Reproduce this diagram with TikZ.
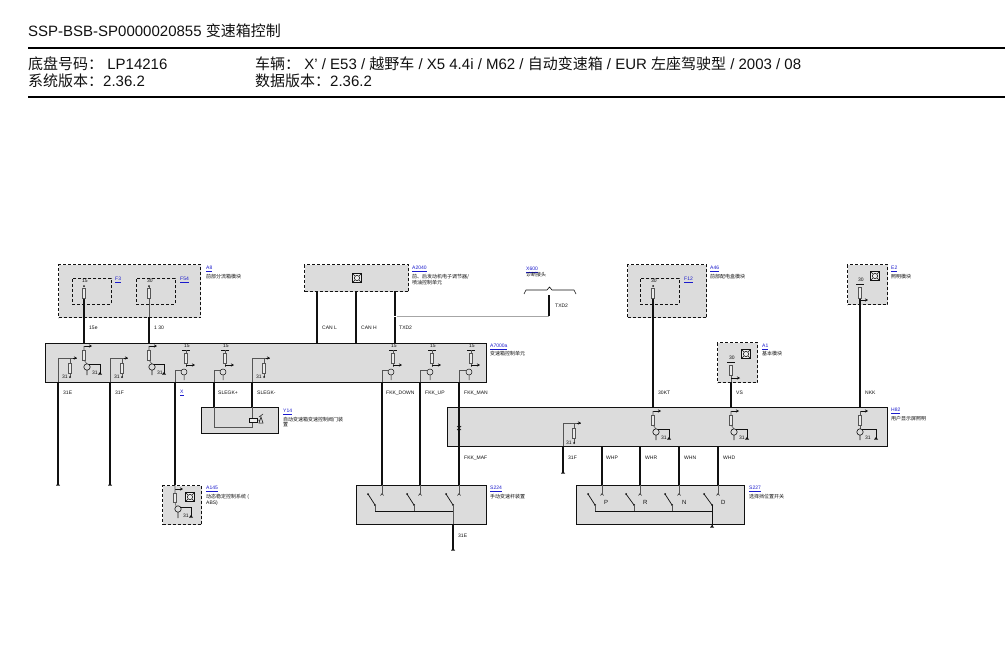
\documentclass[tikz,border=0pt]{standalone}
\usepackage{fontspec}
\setmainfont{Liberation Sans}
\newfontfamily\cjk{Noto Sans CJK SC}
\newcommand{\zh}[1]{{\cjk #1}}
\usetikzlibrary{arrows.meta}
\definecolor{boxfill}{HTML}{DCDCDC}
\definecolor{linkblue}{HTML}{1A1ACC}
\definecolor{ink}{HTML}{111111}
\definecolor{inner}{HTML}{555555}
\newcounter{lbn}
\tikzset{
 module/.style={draw=ink,fill=boxfill,line width=1pt,inner sep=0pt,minimum width=0pt},
 optmodule/.style={module,densely dashed,line width=1pt},
 innerdash/.style={draw=ink,densely dashed,line width=.9pt},
 small/.style={font=\fontsize{5}{5.5}\selectfont,text=ink,inner sep=0pt,anchor=west,align=left},
 refname/.style={small,text=linkblue},
 hdr/.style={font=\fontsize{15}{15}\selectfont,text=ink,inner sep=0pt,anchor=west},
 thin wire/.style={draw=inner,line width=.6pt},
 tick arrow/.style={draw=ink,line width=.8pt,-{Stealth[length=3pt,width=3pt]}},
}
% rectangular box from corner to corner
\newcommand{\boxat}[6]{\node[#2,minimum width=#5pt-#3pt,minimum height=#6pt-#4pt,anchor=north west] (#1) at (#3,#4) {};}
\newcommand{\wire}[5]{\coordinate (#1a) at (#2,#3);\coordinate (#1b) at (#2,#4);\draw[ink,line width=#5pt] (#1a) -- (#1b);}
\newcommand{\lab}[3]{\stepcounter{lbn}\node[small] (lb\arabic{lbn}) at (#1,#2) {#3};}
\newcommand{\rname}[3]{\stepcounter{lbn}\node[refname] (lb\arabic{lbn}) at (#1,#2) {\underline{#3}};}
\newcommand{\fuse}[3]{\draw[inner,line width=.6pt,fill=boxfill!60!white] (#1-1.5,#2) rectangle (#1+1.5,#3);}
\newcommand{\gnd}[2]{\fill[ink] (#1-2,#2+1.5) -- (#1,#2-1) -- (#1+2,#2+1.5) -- cycle;}
\newcommand{\pindot}[2]{\fill[ink] (#1,#2) circle (1pt);}
\newcommand{\arr}[3]{\draw[tick arrow] (#1,#2) -- (#3,#2);}
\newcommand{\icon}[2]{\draw[ink,line width=.7pt,fill=boxfill!50!white] (#1-4.5,#2-4.5) rectangle (#1+4.5,#2+4.5);
 \draw[ink,line width=.5pt] (#1,#2) circle (2.6pt) (#1-4,#2-4) -- (#1-1.5,#2-1.5) (#1+4,#2-4) -- (#1+1.5,#2-1.5) (#1-4,#2+4) -- (#1-1.5,#2+1.5) (#1+4,#2+4) -- (#1+1.5,#2+1.5);}
% output stage: x wire, top y; x circle; gx ground x
\newcommand{\outstage}[4]{\arr{#1}{#2}{#1+8}\fuse{#1}{#2+4}{#2+14}
 \draw[thin wire] (#1,#2) -- (#1,#2+4) (#1,#2+14) -- (#3,#2+18);
 \draw[ink,line width=.6pt] (#3,#2+21) circle (3.2pt) (#3,#2+24.2) -- (#3,#2+29);
 \draw[ink,line width=.7pt] (#3+2,#2+18) -- (#4,#2+18) -- (#4,#2+27);
 \gnd{#4}{#2+27}\lab{#3+5}{#2+27}{31}}
% side stage: x wire at bottom, top-left corner
\newcommand{\sidestage}[5]{\draw[thin wire] (#1,#3) -- (#1,#2) -- (#4,#2);\draw[tick arrow,line width=.7pt] (#4-4,#2) -- (#4,#2);
 \draw[thin wire] (#5,#2) -- (#5,#2+5);\fuse{#5}{#2+5}{#2+15}\draw[thin wire] (#5,#2+15) -- (#5,#2+19);\pindot{#5}{#2+19}\lab{#1+4}{#2+19}{31}}
% power stage: label 15 top, bar, fuse, arrow, transistor, input wire
\newcommand{\powstage}[3]{\lab{#1-2}{346}{15}\draw[ink,line width=.7pt] (#1-4,350) -- (#1+4,350);
 \fuse{#1}{353}{363}\draw[thin wire] (#1,350) -- (#1,353) (#1,363) -- (#1,367);\arr{#1}{365}{#1+9}
 \draw[ink,line width=.5pt] (#1-2,372) circle (3pt) (#1-2,375) -- (#1-2,380);
 \draw[thin wire] (#2,382) -- (#2,370) -- (#1-5,370);}
\newcommand{\sw}[3]{\draw[ink,line width=.7pt] (#1,494) -- (#2,505);\pindot{#1}{494}\pindot{#2}{505}\draw[thin wire] (#2,505) -- (#2,511);
 \draw[ink,line width=.5pt] (#3-1.5,495.5) -- (#3,493.5) -- (#3+1.5,495.5);\draw[thin wire] (#3,485) -- (#3,494);}
\begin{document}
\begin{tikzpicture}[x=1pt,y=-1pt]
\useasboundingbox (0,0) rectangle (1005,661);
\fill[white] (0,0) rectangle (1005,661);
% header
\node[hdr] (title) at (28,31) {SSP-BSB-SP0000020855 \zh{变速箱控制}};
\coordinate (ruleAl) at (28,48);\coordinate (ruleAr) at (1005,48);
\coordinate (ruleBl) at (28,97);\coordinate (ruleBr) at (1005,97);
\draw[black,line width=2pt] (ruleAl) -- (ruleAr);
\draw[black,line width=1.5pt] (ruleBl) -- (ruleBr);
\node[hdr] (chassis) at (28,64) {\zh{底盘号码：} LP14216};
\node[hdr] (sysver) at (28,81) {\zh{系统版本：}2.36.2};
\node[hdr] (vehicle) at (255,64) {\zh{车辆：} X' / E53 / \zh{越野车} / X5 4.4i / M62 / \zh{自动变速箱} / EUR \zh{左座驾驶型} / 2003 / 08};
\node[hdr] (dataver) at (255,81) {\zh{数据版本：}2.36.2};
% modules
\boxat{aEight}{optmodule}{58}{264}{200}{317}
\boxat{fThree}{innerdash}{72}{278}{111}{304}
\boxat{fFiftyFour}{innerdash}{136}{278}{175}{304}
\boxat{aTwenty}{optmodule}{304}{264}{408}{291}
\boxat{tcu}{module}{45}{343}{486}{382}
\boxat{aFortySix}{optmodule}{627}{264}{706}{317}
\boxat{fTwelve}{innerdash}{640}{278}{679}{304}
\boxat{aOne}{optmodule}{717}{342}{757}{382}
\boxat{eTwo}{optmodule}{847}{264}{887}{304}
\boxat{cluster}{module}{447}{407}{887}{446}
\boxat{yFourteen}{module}{201}{407}{278}{433}
\boxat{absmod}{optmodule}{162}{485}{201}{524}
\boxat{sTwoTwoFour}{module}{356}{485}{486}{524}
\boxat{sTwoTwoSeven}{module}{576}{485}{744}{524}
% wires top
\wire{wa}{84}{298}{343}{1.5}
\wire{wb}{149}{317}{343}{2.5}
\draw[thin wire] (149,287) -- (149,317);
\fuse{84}{288}{298}\fuse{149}{288}{298}
\pindot{84}{286}\pindot{149}{286}
\lab{89}{328}{15e}\lab{154}{328}{1 30}
\lab{82}{281}{15}\lab{147}{281}{30}
\wire{wc}{317}{291}{343}{2}
\wire{wd}{356}{291}{343}{2}
\wire{we}{395}{291}{343}{1.5}
\lab{322}{328}{CAN L}\lab{361}{328}{CAN H}\lab{399}{328}{TXD2}
% TXD2 branch
\coordinate (txa) at (395,316);\coordinate (txb) at (549,316);\coordinate (txc) at (549,295);
\draw[gray!70,line width=.7pt] (txa) -- (txb);
\draw[white,line width=1pt] (393,316) -- (397,316);
\draw[ink,line width=1.8pt] (txb) -- (txc);
\draw[ink,line width=.6pt] (524,294) -- (526,290) -- (547,290) -- (549.5,287) -- (552,290) -- (574,290) -- (576,294);
\lab{555}{306}{TXD2}
\rname{526}{270}{X600}\lab{526}{275}{\zh{诊断接头}}
% right side top
\wire{wf}{653}{298}{407}{1.5}
\fuse{653}{288}{298}\pindot{653}{286}\lab{651}{281}{30}
\lab{658}{393}{30KT}
\wire{wg}{731}{382}{407}{2}
\lab{736}{393}{VS}
\lab{729}{358}{30}\draw[ink,line width=.7pt] (727,362) -- (735,362);
\fuse{731}{365}{375}\draw[thin wire] (731,375) -- (731,382);\arr{731}{378}{740}\icon{746}{354}
\wire{wh}{860}{298}{407}{1.8}
\lab{858}{280}{30}\draw[ink,line width=.7pt] (856,284) -- (864,284);
\fuse{860}{287}{298}\arr{860}{300}{868}\icon{875}{276}
\lab{865}{393}{NKK}
% TCU wires down
\wire{wi}{58}{382}{484}{1.5}\gnd{58}{484}
\wire{wj}{110}{382}{484}{2}\gnd{110}{484}
\wire{wk}{175}{382}{485}{2.5}
\wire{wl}{214}{382}{407}{1.3}
\wire{wm}{252}{382}{407}{1.3}
\wire{wn}{382}{382}{485}{2.5}
\wire{wo}{420}{382}{485}{1.2}
\wire{wp}{459}{382}{485}{1.5}
\lab{63}{393}{31E}\lab{115}{393}{31F}\rname{180}{393}{X}
\lab{218}{393}{SLEGK+}\lab{257}{393}{SLEGK-}
\lab{386}{393}{FKK\_DOWN}\lab{425}{393}{FKK\_UP}\lab{464}{393}{FKK\_MAN}\lab{464}{458}{FKK\_MAF}
\draw[ink,line width=.7pt] (457,426) -- (461,430) (461,426) -- (457,430);
% TCU stages
\sidestage{58}{358}{382}{77}{70}
\sidestage{110}{358}{382}{128}{122}
\sidestage{252}{358}{382}{270}{264}
\outstage{84}{346}{87}{100}
\outstage{149}{346}{152}{164}
\powstage{186}{175}{}
\powstage{225}{214}{}
\powstage{393}{382}{}
\powstage{432}{420}{}
\powstage{471}{459}{}
\icon{357}{278}
% Y14
\draw[thin wire] (214,407) -- (214,427) -- (252,427) -- (252,422);
\draw[thin wire] (252,407) -- (252,418);
\draw[ink,line width=.6pt,fill=boxfill!50!white] (249,418) rectangle (257,422);
\draw[ink,line width=.5pt] (257,420) -- (260,420) (259,423) -- (261,417) -- (263,423) -- cycle (259,417) -- (263,414);
% A145
\arr{175}{489}{183}\fuse{175}{493}{502}\draw[thin wire] (175,485) -- (175,493) (175,502) -- (176,506);
\draw[ink,line width=.6pt] (178,509) circle (3.2pt) (178,512.2) -- (178,518);
\draw[ink,line width=.7pt] (180,507) -- (191,507) -- (191,516);\gnd{191}{516}
\lab{183}{516}{31}\icon{190}{497}
% cluster stages
\outstage{653}{411}{656}{669}
\outstage{731}{411}{734}{747}
\outstage{860}{411}{860}{876}
\draw[thin wire] (563,446) -- (563,423) -- (581,423);\draw[tick arrow,line width=.7pt] (577,423) -- (581,423);
\draw[thin wire] (574,423) -- (574,428);\fuse{574}{428}{438}\draw[thin wire] (574,438) -- (574,443);\pindot{574}{443}\lab{566}{443}{31}
\wire{wq}{563}{446}{472}{1.8}\gnd{563}{472}\lab{568}{458}{31F}
\wire{wr}{602}{446}{485}{1.2}\wire{ws}{640}{446}{485}{1.2}\wire{wt}{679}{446}{485}{1.8}\wire{wu}{718}{446}{485}{2}
\lab{606}{458}{WHP}\lab{645}{458}{WHR}\lab{684}{458}{WHN}\lab{723}{458}{WHD}
% S224
\sw{368}{375}{382}\sw{407}{414}{420}\sw{446}{453}{459}
\draw[ink,line width=.8pt] (375,511) -- (453,511);
\draw[thin wire] (453,511) -- (453,524);
\wire{wv}{453}{524}{549}{1.6}\gnd{453}{549}
\lab{458}{536}{31E}
% S227
\sw{588}{595}{602}\sw{626}{634}{640}\sw{665}{672}{679}\sw{704}{712}{718}
\draw[ink,line width=.8pt] (595,511) -- (712,511);
\draw[ink,line width=.8pt] (712,505) -- (712,526);\gnd{712}{526}
\node[small,font=\fontsize{6}{6}\selectfont] (letP) at (604,502) {P};
\node[small,font=\fontsize{6}{6}\selectfont] (letR) at (643,502) {R};
\node[small,font=\fontsize{6}{6}\selectfont] (letN) at (682,502) {N};
\node[small,font=\fontsize{6}{6}\selectfont] (letD) at (721,502) {D};
% names
\rname{206}{269}{A8}\lab{206}{277}{\zh{前部分流箱模块}}
\rname{115}{280}{F3}\rname{180}{280}{F54}
\rname{412}{269}{A2040}\node[small] (aTwentyTxt) at (412,279.5) {\zh{前、后发动机电子调节器/}\\\zh{喷油控制单元}};
\rname{490}{347}{A7000a}\lab{490}{354}{\zh{变速箱控制单元}}
\rname{710}{269}{A46}\lab{710}{277}{\zh{前部配电盒模块}}
\rname{684}{280}{F12}
\rname{762}{347}{A1}\lab{762}{354}{\zh{基本模块}}
\rname{891}{269}{E2}\lab{891}{277}{\zh{照明模块}}
\rname{891}{411}{H82}\lab{891}{419}{\zh{用户显示屏照明}}
\rname{283}{412}{Y14}\node[small] (yFourteenTxt) at (283,422) {\zh{自动变速箱变速控制阀门装}\\\zh{置}};
\rname{206}{489}{A145}\node[small] (absTxt) at (206,500) {\zh{动态稳定控制系统 (}\\ABS)};
\rname{490}{489}{S224}\lab{490}{497}{\zh{手动变速杆装置}}
\rname{749}{489}{S227}\lab{749}{497}{\zh{选择挡位置开关}}
\end{tikzpicture}
\end{document}
